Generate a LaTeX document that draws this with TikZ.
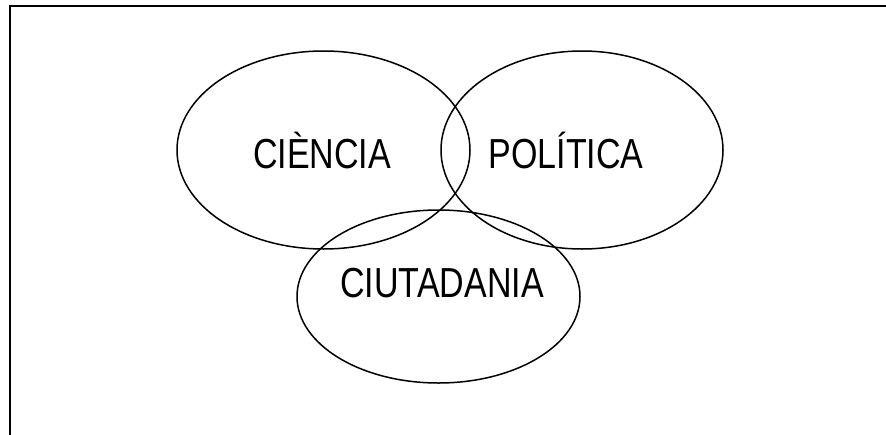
\documentclass[tikz,border=0pt]{standalone}
\usepackage{fontspec}
\setmainfont{Liberation Sans}
\usetikzlibrary{shapes.geometric}
\begin{document}
\begin{tikzpicture}[x=1pt,y=-1pt,
  ring/.style={draw=black,line width=1.5pt,ellipse,inner sep=0pt},
  lbl/.style={font=\fontsize{42}{42}\selectfont,inner sep=0pt,anchor=center}]
\useasboundingbox (0,0) rectangle (886,434);
\draw[line width=2pt] (9.5,440) -- (9.5,5.5) -- (890,5.5);
\node[ring,minimum width=293pt,minimum height=198pt] (cien) at (323.5,150) {};
\node[ring,minimum width=282pt,minimum height=198pt] (poli) at (582,150) {};
\node[ring,minimum width=283pt,minimum height=173pt] (ciut) at (438.5,296.5) {};
\node[lbl] (tcien) at (322,150) {\scalebox{0.81}[1]{CIÈNCIA}};
\node[lbl] (tpoli) at (566,150) {\scalebox{0.81}[1]{POLÍTICA}};
\node[lbl] (tciut) at (442,283) {\scalebox{0.81}[1]{CIUTADANIA}};
\end{tikzpicture}
\end{document}
